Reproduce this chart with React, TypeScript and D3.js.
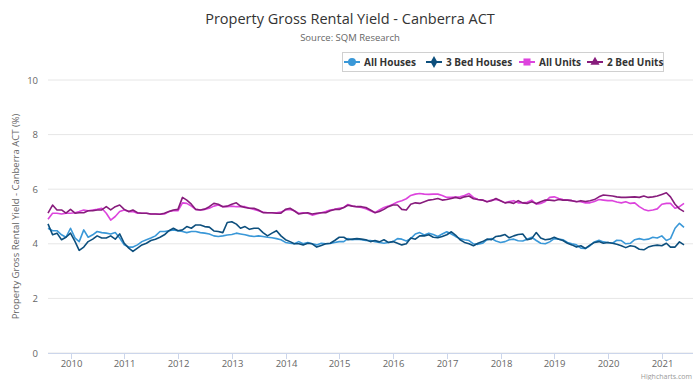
import React from "react";
import * as d3 from "d3";

const START_MONTH = new Date(2009, 7, 1);
const AXIS_END = new Date(2021, 7, 1);
const yearTicks = [2010, 2011, 2012, 2013, 2014, 2015, 2016, 2017, 2018, 2019, 2020, 2021];
const yTicks = [0, 2, 4, 6, 8, 10];
const seriesNames = ["All Houses", "3 Bed Houses", "All Units", "2 Bed Units"];
const seriesColors = ["#3a98d8", "#0d4f7d", "#dd44dd", "#871c7c"];
const seriesMarkers = ["circle", "diamond", "square", "triangle"];

const allHouses = [
  4.57, 4.48, 4.48, 4.33, 4.24, 4.57, 4.21, 4.08, 4.51, 4.24, 4.33, 4.45, 4.41, 4.39, 4.36, 4.41, 4.21, 3.96, 3.88, 3.88, 3.96, 4.08, 4.15, 4.21, 4.29, 4.45, 4.45, 4.48, 4.51,
  4.48, 4.45, 4.41, 4.45, 4.45, 4.41, 4.39, 4.36, 4.29, 4.27, 4.29, 4.32, 4.34, 4.39, 4.36, 4.33, 4.29, 4.27, 4.29, 4.27, 4.24, 4.22, 4.19, 4.15, 4.05, 4.02, 4.0, 4.08, 4.0,
  4.05, 4.0, 3.96, 4.02, 4.0, 4.01, 4.05, 4.08, 4.08, 4.19, 4.15, 4.17, 4.15, 4.12, 4.12, 4.08, 4.05, 4.02, 4.05, 4.08, 4.19, 4.17, 4.1, 4.19, 4.36, 4.41, 4.32, 4.39, 4.34,
  4.27, 4.36, 4.44, 4.36, 4.27, 4.19, 4.15, 4.12, 4.0, 3.98, 4.02, 4.15, 4.19, 4.1, 4.05, 4.08, 4.15, 4.17, 4.11, 4.1, 4.17, 4.24, 4.12, 4.02, 4.0, 4.07, 4.19, 4.17, 4.15,
  4.05, 4.0, 3.96, 3.84, 3.83, 3.93, 4.07, 4.13, 4.07, 4.05, 4.02, 4.13, 4.12, 4.0, 4.02, 4.15, 4.19, 4.15, 4.17, 4.24, 4.21, 4.29, 4.12, 4.19, 4.57, 4.75, 4.6,
];

const bed3Houses = [
  4.73, 4.33, 4.39, 4.15, 4.24, 4.39, 4.08, 3.76, 3.88, 4.08, 4.17, 4.29, 4.21, 4.21, 4.29, 4.17, 4.36, 4.02, 3.84, 3.72, 3.84, 3.96, 4.02, 4.12, 4.17, 4.24, 4.33, 4.48, 4.57,
  4.48, 4.51, 4.63, 4.57, 4.69, 4.69, 4.63, 4.61, 4.47, 4.45, 4.41, 4.78, 4.81, 4.72, 4.57, 4.63, 4.53, 4.57, 4.57, 4.41, 4.29, 4.39, 4.48, 4.29, 4.15, 4.08, 4.0, 4.0, 3.96,
  4.02, 4.0, 3.88, 3.94, 4.0, 4.02, 4.12, 4.24, 4.24, 4.15, 4.17, 4.19, 4.17, 4.15, 4.08, 4.12, 4.07, 4.15, 4.05, 4.08, 4.02, 3.96, 4.0, 4.21, 4.17, 4.29, 4.29, 4.33, 4.24,
  4.22, 4.27, 4.33, 4.44, 4.32, 4.15, 4.05, 4.0, 3.93, 4.02, 4.08, 4.17, 4.15, 4.27, 4.29, 4.34, 4.22, 4.29, 4.34, 4.36, 4.15, 4.19, 4.41, 4.21, 4.15, 4.17, 4.24, 4.17, 4.12,
  4.02, 3.96, 3.88, 3.93, 3.83, 3.95, 4.05, 4.08, 4.02, 4.05, 4.02, 3.98, 3.93, 3.86, 3.93, 3.9, 3.8, 3.78, 3.88, 3.93, 3.95, 3.93, 4.02, 3.88, 3.88, 4.07, 3.96,
];

const allUnits = [
  4.9, 5.12, 5.12, 5.09, 5.12, 5.12, 5.14, 5.18, 5.24, 5.21, 5.24, 5.26, 5.3, 5.12, 4.87, 5.0, 5.18, 5.24, 5.18, 5.18, 5.12, 5.12, 5.12, 5.09, 5.09, 5.08, 5.09, 5.18, 5.21,
  5.21, 5.5, 5.48, 5.38, 5.26, 5.24, 5.26, 5.3, 5.38, 5.42, 5.36, 5.36, 5.38, 5.36, 5.36, 5.36, 5.3, 5.26, 5.21, 5.16, 5.14, 5.14, 5.14, 5.16, 5.24, 5.26, 5.21, 5.12, 5.14,
  5.12, 5.05, 5.09, 5.14, 5.18, 5.24, 5.26, 5.3, 5.33, 5.44, 5.38, 5.36, 5.33, 5.28, 5.21, 5.14, 5.24, 5.33, 5.38, 5.45, 5.53, 5.58, 5.65, 5.77, 5.82, 5.84, 5.82, 5.81, 5.82,
  5.82, 5.77, 5.7, 5.7, 5.71, 5.72, 5.77, 5.84, 5.7, 5.62, 5.6, 5.54, 5.6, 5.62, 5.58, 5.5, 5.55, 5.58, 5.5, 5.5, 5.52, 5.6, 5.45, 5.48, 5.55, 5.7, 5.72, 5.66, 5.62,
  5.6, 5.58, 5.55, 5.54, 5.5, 5.5, 5.55, 5.62, 5.6, 5.58, 5.58, 5.53, 5.5, 5.54, 5.48, 5.5, 5.36, 5.26, 5.21, 5.24, 5.28, 5.45, 5.48, 5.48, 5.3, 5.36, 5.48,
];

const bed2Units = [
  5.12, 5.42, 5.24, 5.24, 5.12, 5.26, 5.12, 5.14, 5.14, 5.21, 5.21, 5.24, 5.24, 5.36, 5.24, 5.36, 5.42, 5.26, 5.18, 5.24, 5.14, 5.12, 5.12, 5.09, 5.09, 5.08, 5.12, 5.18, 5.24,
  5.26, 5.7, 5.6, 5.45, 5.26, 5.24, 5.27, 5.36, 5.48, 5.45, 5.36, 5.38, 5.45, 5.5, 5.38, 5.33, 5.3, 5.3, 5.24, 5.14, 5.14, 5.14, 5.12, 5.12, 5.26, 5.3, 5.21, 5.09, 5.12,
  5.14, 5.09, 5.12, 5.14, 5.14, 5.21, 5.26, 5.26, 5.33, 5.41, 5.38, 5.36, 5.36, 5.33, 5.24, 5.14, 5.18, 5.26, 5.36, 5.42, 5.42, 5.26, 5.24, 5.45, 5.5, 5.48, 5.54, 5.6, 5.62,
  5.66, 5.6, 5.62, 5.66, 5.7, 5.66, 5.72, 5.75, 5.65, 5.62, 5.6, 5.54, 5.58, 5.66, 5.58, 5.5, 5.52, 5.48, 5.58, 5.5, 5.48, 5.54, 5.48, 5.54, 5.6, 5.6, 5.58, 5.62, 5.6,
  5.6, 5.58, 5.54, 5.58, 5.55, 5.58, 5.62, 5.72, 5.79, 5.77, 5.75, 5.72, 5.7, 5.7, 5.71, 5.72, 5.7, 5.75, 5.7, 5.72, 5.75, 5.81, 5.87, 5.72, 5.45, 5.28, 5.18,
];

const seriesValues = [allHouses, bed3Houses, allUnits, bed2Units];

const FONT = "'Open Sans', 'DejaVu Sans', sans-serif";
const PLOT = { left: 48, right: 693, top: 80, bottom: 353 };

function Marker({ kind, cx, cy, color }: { kind: string; cx: number; cy: number; color: string }) {
  const sym =
    kind === "circle" ? d3.symbolCircle : kind === "diamond" ? d3.symbolDiamond : kind === "square" ? d3.symbolSquare : d3.symbolTriangle;
  const size = kind === "diamond" ? 40 : kind === "triangle" ? 36 : 50;
  const path = d3.symbol().type(sym).size(size)() || "";
  return <path d={path} transform={`translate(${cx},${cy})`} fill={color} />;
}

export default function App() {
  const months = allHouses.map((_, i) => d3.timeMonth.offset(START_MONTH, i));
  const x = d3.scaleTime().domain([START_MONTH, AXIS_END]).range([PLOT.left, PLOT.right]);
  const y = d3.scaleLinear().domain([0, 10]).range([PLOT.bottom, PLOT.top]);
  const line = d3
    .line<number>()
    .x((_, i) => x(months[i]))
    .y((d) => y(d));

  const legendX = [344, 426, 519, 587];

  return (
    <svg width={700} height={380} style={{ position: "absolute", left: 0, top: 0, background: "#fff" }} fontFamily={FONT}>
      <rect x={0} y={0} width={700} height={380} fill="#fff" />
      <text x={350} y={24} textAnchor="middle" fontSize={14.5} fill="#333">
        Property Gross Rental Yield - Canberra ACT
      </text>
      <text x={350} y={41} textAnchor="middle" fontSize={9.5} fill="#666">
        Source: SQM Research
      </text>

      {/* legend */}
      <rect x={342.5} y={52.5} width={321} height={19} fill="#fff" stroke="#d0d0d0" strokeWidth={1} />
      {seriesNames.map((name, i) => (
        <g key={name}>
          <line x1={legendX[i]} x2={legendX[i] + 16} y1={62} y2={62} stroke={seriesColors[i]} strokeWidth={2} />
          <Marker kind={seriesMarkers[i]} cx={legendX[i] + 8} cy={62} color={seriesColors[i]} />
          <text x={legendX[i] + 20} y={65.5} fontSize={10} fontWeight="bold" fill="#333">
            {name}
          </text>
        </g>
      ))}

      {/* grid */}
      {yTicks.map((t) => (
        <g key={t}>
          <line x1={PLOT.left} x2={PLOT.right} y1={y(t)} y2={y(t)} stroke="#e6e6e6" strokeWidth={1} />
          <text x={38} y={y(t) + 3.5} textAnchor="end" fontSize={9.5} fill="#666">
            {t}
          </text>
        </g>
      ))}
      <line x1={PLOT.left} x2={PLOT.right} y1={PLOT.bottom + 0.5} y2={PLOT.bottom + 0.5} stroke="#ccd6eb" strokeWidth={1} />
      {yearTicks.map((yr) => {
        const xx = Math.round(x(new Date(yr, 0, 1))) + 0.5;
        return (
          <g key={yr}>
            <line x1={xx} x2={xx} y1={PLOT.bottom} y2={PLOT.bottom + 6} stroke="#ccd6eb" strokeWidth={1} />
            <text x={xx} y={PLOT.bottom + 14} textAnchor="middle" fontSize={9.5} fill="#666">
              {yr}
            </text>
          </g>
        );
      })}

      <text
        transform={`translate(19,${(PLOT.top + PLOT.bottom) / 2 + 0}) rotate(-90)`}
        textAnchor="middle"
        fontSize={9.5}
        fill="#666"
      >
        Property Gross Rental Yield - Canberra ACT (%)
      </text>

      {/* series */}
      {seriesValues.map((vals, i) => (
        <path key={i} d={line(vals) || ""} fill="none" stroke={seriesColors[i]} strokeWidth={1.6} strokeLinejoin="round" />
      ))}

      <text x={692} y={378.5} textAnchor="end" fontSize={7} fill="#999">
        Highcharts.com
      </text>
    </svg>
  );
}
